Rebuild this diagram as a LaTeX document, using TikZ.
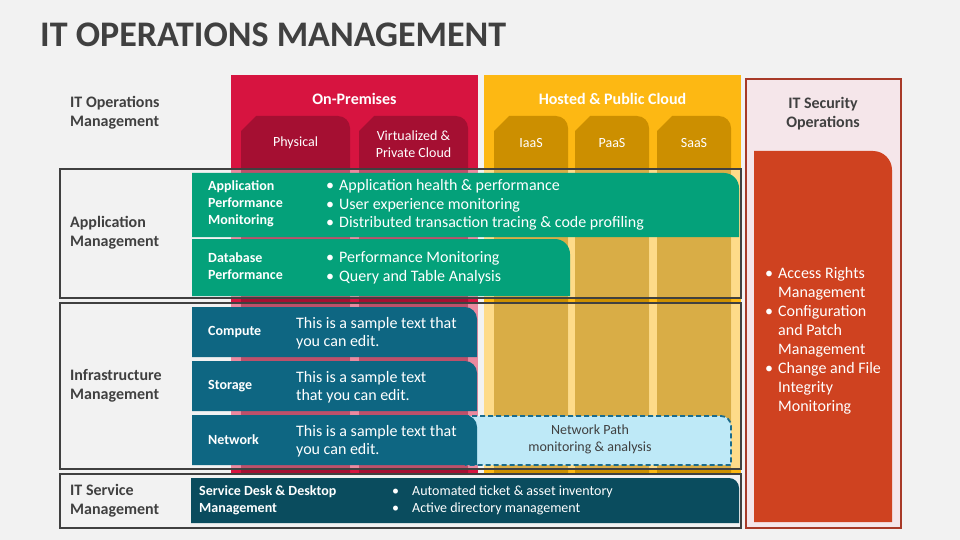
\documentclass[tikz,border=0pt]{standalone}
\usepackage{fontspec}
\setmainfont{Carlito}
\usetikzlibrary{calc}
\definecolor{bgray}{HTML}{F2F2F2}
\definecolor{ink}{HTML}{404040}
\definecolor{crim}{HTML}{D71440}
\definecolor{crimdk}{HTML}{A50F32}
\definecolor{gold}{HTML}{FDB813}
\definecolor{golddk}{HTML}{CC8F00}
\definecolor{apmgreen}{HTML}{04A17A}
\definecolor{infrablue}{HTML}{0E6682}
\definecolor{deskteal}{HTML}{0A4C5E}
\definecolor{pathblue}{HTML}{BEE9F7}
\definecolor{pathline}{HTML}{1C6C8C}
\definecolor{secline}{HTML}{A83A28}
\definecolor{secfill}{HTML}{F5E6EA}
\definecolor{secred}{HTML}{CF4220}
\newcommand{\slab}[6]{\path[#1] (#2,#5) -- (#2,#3) -- ({#4-#6},#3)
  .. controls ({#4-0.448*#6},#3) and (#4,{#3+0.448*#6}) .. (#4,{#3+#6}) -- (#4,#5) -- cycle;}
\newcommand{\bul}[2][13pt]{\makebox[#1][l]{\textbullet}#2}

\begin{document}
\begin{tikzpicture}[x=1pt, y=-1pt,
      lab/.style={anchor=west, align=left, inner sep=0, text=ink,
                  font=\bfseries\fontsize{16}{19}\selectfont},
      hd/.style={inner sep=0, text=white, font=\bfseries\fontsize{16}{18}\selectfont},
      tb/.style={inner sep=0, text=white, align=center, font=\fontsize{14}{17}\selectfont},
      rowhd/.style={anchor=west, align=left, inner sep=0, text=white,
                    font=\bfseries\fontsize{14}{17}\selectfont},
      rowtxt/.style={anchor=west, align=left, inner sep=0, text=white,
                     font=\fontsize{16}{18.5}\selectfont},
      infotxt/.style={rowtxt, font=\fontsize{16}{18}\selectfont},
      grp/.style={draw=ink, line width=2.5pt}]
    \useasboundingbox (0,0) rectangle (960,540);
    \fill[bgray] (0,0) rectangle (960,540);
    \node[anchor=base west, inner sep=0, text=ink, font=\bfseries\fontsize{36}{40}\selectfont]
      (title) at (40,47) {IT OPERATIONS MANAGEMENT};

    \fill[crim] (231,75) rectangle (478,474);
    \fill[gold] (484,75) rectangle (741,474);
    \foreach \xa/\xb/\c in {241/350/crimdk,359/468/crimdk,494/568/golddk,575/649/golddk,657/731/golddk}
      \fill[\c] (\xa,474) -- (\xa,131) -- ({\xa+15},116) -- ({\xb-12},116)
        .. controls ({\xb-5.4},116) and (\xb,121.4) .. (\xb,128) -- (\xb,474) -- cycle;
    \foreach \ya/\yb in {169/298,303/469} {
      \foreach \xa/\xb in {231/478,484/741}
        \fill[white, opacity=.5] (\xa,\ya) rectangle (\xb,\yb);
      \foreach \xa/\xb/\c in {241/350/crimdk,359/468/crimdk,494/568/golddk,575/649/golddk,657/731/golddk}
        \fill[\c, opacity=.45] (\xa,\ya) rectangle (\xb,\yb);
    }
    \node[hd] (onprem) at (354.5,99) {On-Premises};
    \node[hd] (hosted) at (612.5,99) {Hosted \& Public Cloud};
    \node[tb] (phys) at (295.5,143) {Physical};
    \node[tb] (virt) at (413.5,144) {Virtualized \&\\Private Cloud};
    \node[tb] (iaas) at (531,143) {IaaS};
    \node[tb] (paas) at (612,143) {PaaS};
    \node[tb] (saas) at (694,143) {SaaS};

    \foreach \ya/\yb in {169/298,303/469,474/528} \draw[grp] (60,\ya) rectangle (741,\yb);

    \slab{fill=apmgreen}{192}{173}{739}{237}{15}
    \node[rowhd] (apm) at (208,204) {Application\\Performance\\Monitoring};
    \node[rowtxt] (apmtxt) at (326,205) {\bul{Application health \& performance}\\
      \bul{User experience monitoring}\\\bul{Distributed transaction tracing \& code profiling}};
    \slab{fill=apmgreen}{192}{239}{570}{296}{15}
    \node[rowhd] (db) at (208,266) {Database\\Performance};
    \node[rowtxt] (dbtxt) at (326,268) {\bul{Performance Monitoring}\\\bul{Query and Table Analysis}};

    \slab{fill=pathblue, draw=pathline, line width=1.8pt, dash pattern=on 5pt off 3pt}{465}{416}{731}{465}{10}
    \node[inner sep=0, text=ink, align=center, font=\fontsize{14}{17}\selectfont]
      (path) at (590,439) {Network Path\\monitoring \& analysis};
    \slab{fill=infrablue}{192}{307}{477}{357}{12}
    \node[rowhd] (comp) at (208,332) {Compute};
    \node[infotxt] (comptxt) at (296,333) {This is a sample text that\\you can edit.};
    \slab{fill=infrablue}{192}{361}{477}{411}{12}
    \node[rowhd] (stor) at (208,386) {Storage};
    \node[infotxt] (stortxt) at (296,387) {This is a sample text\\that you can edit.};
    \slab{fill=infrablue}{192}{415}{477}{465}{12}
    \node[rowhd] (net) at (208,440) {Network};
    \node[infotxt] (nettxt) at (296,441) {This is a sample text that\\you can edit.};

    \slab{fill=deskteal}{191}{478}{739}{523}{10}
    \node[rowhd] (desk) at (199,500) {Service Desk \& Desktop\\Management};
    \node[rowtxt, font=\fontsize{14}{17}\selectfont] (desktxt) at (392,500)
      {\bul[20pt]{Automated ticket \& asset inventory}\\\bul[20pt]{Active directory management}};

    \draw[secline, fill=secfill, line width=2pt] (746,79) rectangle (901,528);
    \node[lab, anchor=center, align=center] (sec) at (823,114) {IT Security\\Operations};
    \slab{fill=secred}{754}{151}{892}{522}{19}
    \node[rowtxt, font=\fontsize{16}{19}\selectfont] (sectxt) at (765,341)
      {\bul{Access Rights}\\\hspace*{13pt}Management\\\bul{Configuration}\\\hspace*{13pt}and Patch\\
       \hspace*{13pt}Management\\\bul{Change and File}\\\hspace*{13pt}Integrity\\\hspace*{13pt}Monitoring};

    \node[lab] (itops) at (70,113) {IT Operations\\Management};
    \node[lab] (appm) at (70,233) {Application\\Management};
    \node[lab] (infm) at (70,386) {Infrastructure\\Management};
    \node[lab] (itsm) at (70,501) {IT Service\\Management};
  \end{tikzpicture}
\end{document}
